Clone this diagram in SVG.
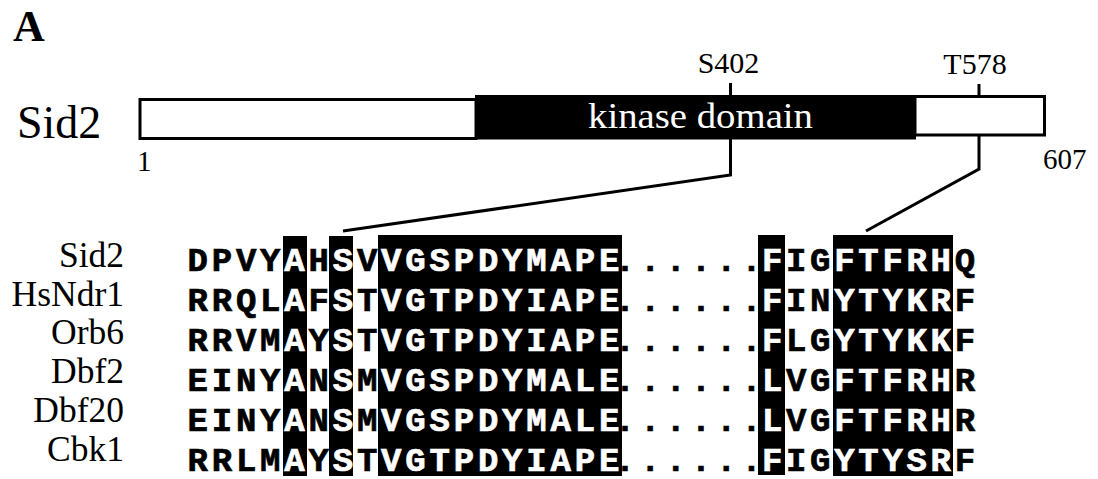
<svg xmlns="http://www.w3.org/2000/svg" width="1098" height="479" viewBox="0 0 1098 479">
<style>
.serif{font-family:"Liberation Serif","Times New Roman",serif;fill:#000}
.seq{font-family:"Liberation Mono","Courier New",monospace;font-weight:bold;font-size:34px;fill:#000;stroke:#000;stroke-width:0.7}
.w{fill:#fff;stroke:#fff}
.ln{stroke:#000;stroke-width:3;fill:none}
.box{fill:#000}
</style>
<rect width="1098" height="479" fill="#fff"/>
<g id="panel-label"><text class="serif" x="13" y="41" font-size="44" font-weight="bold">A</text></g>
<g id="sid2-bar">
<text class="serif" x="17" y="138" font-size="46">Sid2</text>
<rect x="140" y="99.5" width="336" height="39" fill="#fff" stroke="#000" stroke-width="3"/>
<rect x="915" y="96.5" width="129.5" height="38.5" fill="#fff" stroke="#000" stroke-width="3"/>
<rect x="475" y="95" width="441" height="44.5" fill="#000"/>
<text class="serif" x="700.5" y="128" font-size="35" style="fill:#fff" text-anchor="middle" textLength="225" lengthAdjust="spacingAndGlyphs">kinase domain</text>
<text class="serif" x="137" y="171" font-size="29">1</text>
<text class="serif" x="1043" y="169" font-size="29">607</text>
<text class="serif" x="728.5" y="73" font-size="30" text-anchor="middle">S402</text>
<text class="serif" x="975" y="74" font-size="30" text-anchor="middle">T578</text>
</g>
<g id="connectors">
<line class="ln" x1="730.5" y1="83" x2="730.5" y2="96"/>
<line class="ln" x1="979" y1="84" x2="979" y2="97"/>
<polyline class="ln" points="730.5,139 730.5,175 343,231"/>
<polyline class="ln" points="979,135 979,169 866,231"/>
</g>
<g id="alignment-boxes">
<rect class="box" x="283" y="236" width="24" height="240"/>
<rect class="box" x="329" y="236" width="24" height="240"/>
<rect class="box" x="378" y="235" width="244" height="241"/>
<rect class="box" x="758" y="235" width="27" height="240"/>
<rect class="box" x="833" y="235" width="120" height="241"/>
</g>
<g id="names" class="serif" font-size="35.5" text-anchor="end">
<text x="124" y="267">Sid2</text>
<text x="124" y="305.7">HsNdr1</text>
<text x="124" y="344.4">Orb6</text>
<text x="124" y="383.1">Dbf2</text>
<text x="124" y="421.8">Dbf20</text>
<text x="124" y="460.5">Cbk1</text>
</g>
<g id="sequences">
<text class="seq" y="271" x="187.5 211.7 235.9 260.1 284.3 308.5 332.7 356.9 381.1 405.3 429.5 453.7 477.9 502.1 526.3 550.5 574.7 598.9 614.8 640.1 665.4 690.7 716 741.3 761.9 786 810.1 834.2 858.3 882.4 906.5 930.6 954.7">DPVY<tspan class="w">A</tspan>H<tspan class="w">S</tspan>V<tspan class="w">VGSPDYMAPE</tspan>......<tspan class="w">F</tspan>IG<tspan class="w">FTFRH</tspan>Q</text>
<text class="seq" y="311" x="187.5 211.7 235.9 260.1 284.3 308.5 332.7 356.9 381.1 405.3 429.5 453.7 477.9 502.1 526.3 550.5 574.7 598.9 614.8 640.1 665.4 690.7 716 741.3 761.9 786 810.1 834.2 858.3 882.4 906.5 930.6 954.7">RRQL<tspan class="w">A</tspan>F<tspan class="w">S</tspan>T<tspan class="w">VGTPDYIAPE</tspan>......<tspan class="w">F</tspan>IN<tspan class="w">YTYKR</tspan>F</text>
<text class="seq" y="351" x="187.5 211.7 235.9 260.1 284.3 308.5 332.7 356.9 381.1 405.3 429.5 453.7 477.9 502.1 526.3 550.5 574.7 598.9 614.8 640.1 665.4 690.7 716 741.3 761.9 786 810.1 834.2 858.3 882.4 906.5 930.6 954.7">RRVM<tspan class="w">A</tspan>Y<tspan class="w">S</tspan>T<tspan class="w">VGTPDYIAPE</tspan>......<tspan class="w">F</tspan>LG<tspan class="w">YTYKK</tspan>F</text>
<text class="seq" y="391" x="187.5 211.7 235.9 260.1 284.3 308.5 332.7 356.9 381.1 405.3 429.5 453.7 477.9 502.1 526.3 550.5 574.7 598.9 614.8 640.1 665.4 690.7 716 741.3 761.9 786 810.1 834.2 858.3 882.4 906.5 930.6 954.7">EINY<tspan class="w">A</tspan>N<tspan class="w">S</tspan>M<tspan class="w">VGSPDYMALE</tspan>......<tspan class="w">L</tspan>VG<tspan class="w">FTFRH</tspan>R</text>
<text class="seq" y="431" x="187.5 211.7 235.9 260.1 284.3 308.5 332.7 356.9 381.1 405.3 429.5 453.7 477.9 502.1 526.3 550.5 574.7 598.9 614.8 640.1 665.4 690.7 716 741.3 761.9 786 810.1 834.2 858.3 882.4 906.5 930.6 954.7">EINY<tspan class="w">A</tspan>N<tspan class="w">S</tspan>M<tspan class="w">VGSPDYMALE</tspan>......<tspan class="w">L</tspan>VG<tspan class="w">FTFRH</tspan>R</text>
<text class="seq" y="471" x="187.5 211.7 235.9 260.1 284.3 308.5 332.7 356.9 381.1 405.3 429.5 453.7 477.9 502.1 526.3 550.5 574.7 598.9 614.8 640.1 665.4 690.7 716 741.3 761.9 786 810.1 834.2 858.3 882.4 906.5 930.6 954.7">RRLM<tspan class="w">A</tspan>Y<tspan class="w">S</tspan>T<tspan class="w">VGTPDYIAPE</tspan>......<tspan class="w">F</tspan>IG<tspan class="w">YTYSR</tspan>F</text>
</g>
</svg>
